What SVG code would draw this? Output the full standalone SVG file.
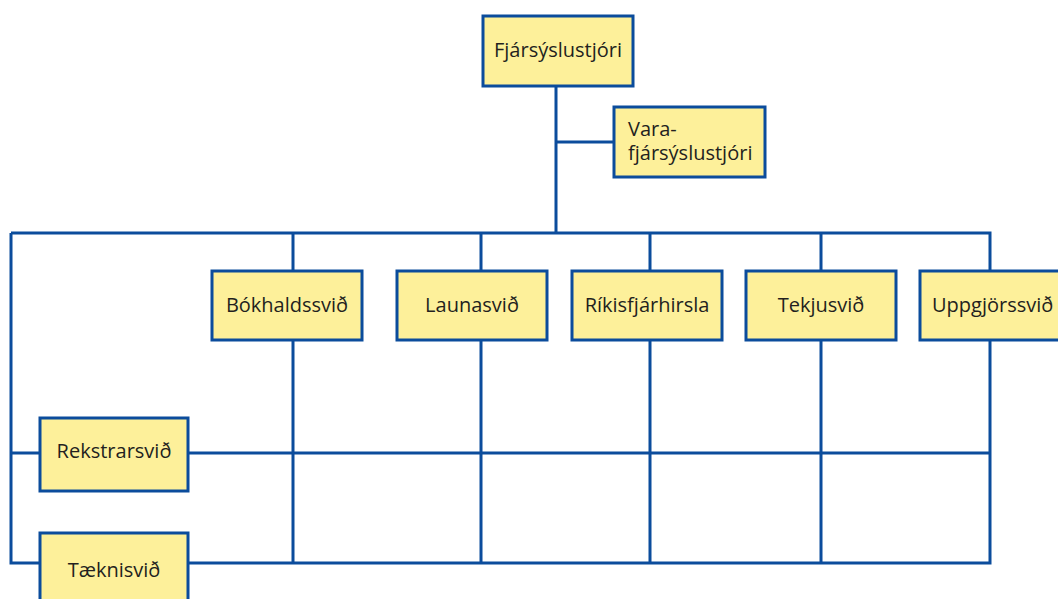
<svg xmlns="http://www.w3.org/2000/svg" width="1058" height="599" viewBox="0 0 1058 599">
<style>
.box{fill:#fdf09a;stroke:#0b4c9c;stroke-width:3}
.ln{fill:none;stroke:#0b4c9c;stroke-width:3;stroke-linejoin:miter}
text{font-family:"Open Sans","Noto Sans","DejaVu Sans",sans-serif;font-size:20px;fill:#231f20}
.c{text-anchor:middle}
</style>
<rect width="1058" height="599" fill="#ffffff"/>
<g id="connectors">
<path class="ln" d="M556 86V233M556 142H614M11 233H990V563H188M11 233V563H40M11 453H40M188 453H990M293 233V271M481 233V271M650 233V271M821 233V271M293 340V563M481 340V563M650 340V563M821 340V563"/>
</g>
<g id="n-fjarsyslustjori"><rect class="box" x="483" y="16" width="150" height="70"/><text class="c" x="558" y="57">Fjársýslustjóri</text></g>
<g id="n-vara"><rect class="box" x="614" y="107" width="151" height="70"/><text x="628" y="136">Vara-</text><text x="628" y="160">fjársýslustjóri</text></g>
<g id="n-bokhald"><rect class="box" x="212" y="271" width="150" height="69"/><text class="c" x="287" y="312">Bókhaldssvið</text></g>
<g id="n-launa"><rect class="box" x="397" y="271" width="150" height="69"/><text class="c" x="472" y="312">Launasvið</text></g>
<g id="n-rikis"><rect class="box" x="572" y="271" width="150" height="69"/><text class="c" x="647" y="312">Ríkisfjárhirsla</text></g>
<g id="n-tekju"><rect class="box" x="746" y="271" width="150" height="69"/><text class="c" x="821" y="312">Tekjusvið</text></g>
<g id="n-uppgjor"><rect class="box" x="920" y="271" width="150" height="69"/><text x="932" y="312">Uppgjörssvið</text></g>
<g id="n-rekstrar"><rect class="box" x="40" y="418" width="148" height="73"/><text class="c" x="114" y="458">Rekstrarsvið</text></g>
<g id="n-taekni"><rect class="box" x="40" y="533" width="148" height="80"/><text class="c" x="114" y="577">Tæknisvið</text></g>
</svg>
